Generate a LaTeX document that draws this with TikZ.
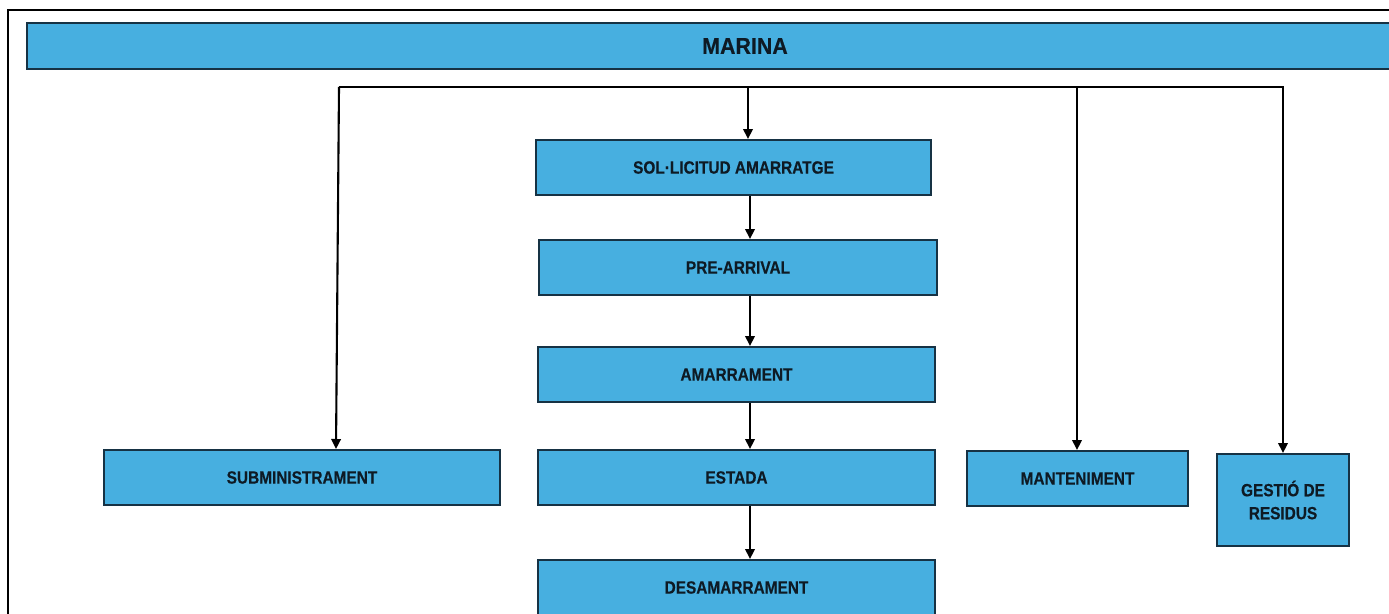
\documentclass[tikz,border=0pt]{standalone}
\usepackage{fontspec}
\setmainfont{Liberation Sans}
\newfontfamily\boxfont[FakeStretch=0.87,FakeBold=0.4]{Liberation Sans Bold}
\newfontfamily\titlefont[FakeStretch=0.93,FakeBold=0.4]{Liberation Sans Bold}
\usetikzlibrary{arrows.meta,calc}
\definecolor{boxblue}{RGB}{71,175,224}
\definecolor{boxedge}{RGB}{22,50,68}
\definecolor{boxtext}{RGB}{14,26,36}
\tikzset{
  stepbox/.style={draw=boxedge, fill=boxblue, line width=2pt, inner sep=0pt,
    minimum height=55pt, text=boxtext, align=center,
    font={\boxfont\fontsize{17.7}{23}\selectfont}},
  titlebox/.style={draw=boxedge, fill=boxblue, line width=2pt, inner sep=0pt,
    text=boxtext, font={\titlefont\fontsize{23}{26}\selectfont}},
  link/.style={line width=2.1pt, black, line join=miter},
  arr/.style={link, -{Triangle[length=10pt,width=9.5pt]}},
}
\begin{document}
\begin{tikzpicture}[x=1pt,y=-1pt]
\useasboundingbox (0,0) rectangle (1389,613);
\clip (0,0) rectangle (1389,613);
\fill[white] (0,0) rectangle (1389,613);
\draw[line width=1.8pt] (8,10) rectangle (1440,650);

\node[titlebox, minimum width=1436pt, minimum height=46pt] (marina) at (745,46) {MARINA};

\node[stepbox, minimum width=395pt] (sol) at (733.5,167.5) {SOL·LICITUD AMARRATGE};
\node[stepbox, minimum width=398pt] (pre) at (738,267.5) {PRE-ARRIVAL};
\node[stepbox, minimum width=397pt] (ama) at (736.5,374.5) {AMARRAMENT};
\node[stepbox, minimum width=397pt] (est) at (736.5,477.5) {ESTADA};
\node[stepbox, minimum width=397pt] (des) at (736.5,587.5) {DESAMARRAMENT};
\node[stepbox, minimum width=396pt] (sub) at (302,477.5) {SUBMINISTRAMENT};
\node[stepbox, minimum width=221pt] (man) at (1077.5,478.5) {MANTENIMENT};
\node[stepbox, minimum width=132pt, minimum height=92pt] (ges) at (1283,500) {GESTIÓ DE\\RESIDUS};

\coordinate (busL) at (339,87);
\coordinate (busM) at (748,87);
\coordinate (busN) at (1077,87);
\coordinate (col) at (750,0);

\draw[arr] (busL) -- ($(sub.north)+(34,0)$);
\draw[arr] (busL) -- (ges.north |- busL) -- (ges.north);
\draw[arr] (busM) -- (sol.north -| busM);
\draw[arr] (busN) -- (man.north -| busN);
\draw[arr] (sol.south -| col) -- (pre.north -| col);
\draw[arr] (pre.south -| col) -- (ama.north -| col);
\draw[arr] (ama.south -| col) -- (est.north -| col);
\draw[arr] (est.south -| col) -- (des.north -| col);
\end{tikzpicture}
\end{document}
